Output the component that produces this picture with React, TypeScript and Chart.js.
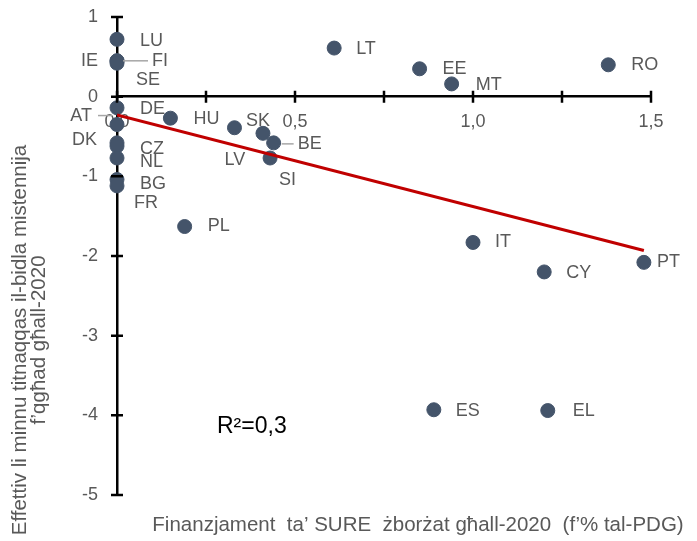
import { useEffect, useRef } from 'react';
import { Chart, registerables } from 'chart.js';

Chart.register(...registerables);

// ---- Data ----
const countries = ['LU', 'IE', 'FI', 'SE', 'DE', 'AT', 'DK', 'CZ', 'NL', 'BG', 'FR', 'HU', 'LV', 'SK', 'BE', 'SI', 'LT', 'EE', 'MT', 'RO', 'PL', 'IT', 'CY', 'PT', 'ES', 'EL'];
const sureFunding = [0, 0, 0, 0, 0, 0, 0, 0, 0, 0, 0, 0.15, 0.33, 0.41, 0.44, 0.43, 0.61, 0.85, 0.94, 1.38, 0.19, 1.0, 1.2, 1.48, 0.89, 1.21];
const unemploymentEffect = [0.72, 0.45, 0.45, 0.42, -0.14, -0.35, -0.58, -0.62, -0.77, -1.04, -1.12, -0.27, -0.39, -0.46, -0.58, -0.77, 0.61, 0.35, 0.16, 0.40, -1.63, -1.83, -2.20, -2.08, -3.93, -3.94];
const trendX = [0, 1.48];
const trendY = [-0.23, -1.93];
const rSquaredText = 'R²=0,3';
const xTitle = 'Finanzjament  ta’ SURE  żborżat għall-2020  (f’% tal-PDG)';
const yTitleLines = ['Effettiv li minnu titnaqqas il-bidla mistennija', 'f’qgħad għall-2020'];

// ---- Label placement (styling only) ----
type LabelPos = { dx: number; dy: number; align?: CanvasTextAlign; leader?: [number, number, number] };
const labelPlacement: Record<string, LabelPos> = {
  LU: { dx: 23, dy: 2 },
  IE: { dx: -19, dy: 0, align: 'right' },
  FI: { dx: 35, dy: 0, leader: [6, 31, 0] },
  SE: { dx: 19, dy: 17 },
  DE: { dx: 23, dy: 1 },
  AT: { dx: -25, dy: -9, align: 'right', leader: [-19, -5, -9] },
  DK: { dx: -20, dy: -3, align: 'right' },
  CZ: { dx: 23, dy: 3 },
  NL: { dx: 23, dy: 4 },
  BG: { dx: 23, dy: 5 },
  FR: { dx: 17, dy: 17 },
  HU: { dx: 23, dy: 1 },
  LV: { dx: -10, dy: 32 },
  SK: { dx: -17, dy: -12 },
  BE: { dx: 24, dy: 1, leader: [8, 20, 1] },
  SI: { dx: 9, dy: 22 },
  LT: { dx: 22, dy: 1 },
  EE: { dx: 23, dy: 0 },
  MT: { dx: 24, dy: 1 },
  RO: { dx: 23, dy: 0 },
  PL: { dx: 23, dy: 0 },
  IT: { dx: 22, dy: 0 },
  CY: { dx: 22, dy: 1 },
  PT: { dx: 13, dy: 0 },
  ES: { dx: 22, dy: 1 },
  EL: { dx: 25, dy: 0 },
};

const FONT = '"Liberation Sans", Arial, sans-serif';
const GRAY = '#595959';

const overlayPlugin = {
  id: 'overlay',
  afterDatasetsDraw(chart: any) {
    const { ctx, scales } = chart;
    const xs = scales.x;
    const ys = scales.y;
    const x0 = xs.getPixelForValue(0);
    const y0 = ys.getPixelForValue(0);
    ctx.save();
    // crossing tick marks
    ctx.strokeStyle = '#000';
    ctx.lineWidth = 2.5;
    ctx.beginPath();
    xs.ticks.forEach((t: any) => {
      const px = xs.getPixelForValue(t.value);
      ctx.moveTo(px, y0 - 6);
      ctx.lineTo(px, y0 + 6);
    });
    ys.ticks.forEach((t: any) => {
      const py = ys.getPixelForValue(t.value);
      ctx.moveTo(x0 - 6, py);
      ctx.lineTo(x0 + 6, py);
    });
    ctx.stroke();

    // point labels
    const meta = chart.getDatasetMeta(1);
    ctx.font = `18px ${FONT}`;
    ctx.fillStyle = GRAY;
    ctx.textBaseline = 'middle';
    meta.data.forEach((el: any, i: number) => {
      const name = countries[i];
      const p = labelPlacement[name] || { dx: 20, dy: 0 };
      ctx.textAlign = p.align || 'left';
      ctx.fillText(name, el.x + p.dx, el.y + p.dy);
      if (p.leader) {
        ctx.strokeStyle = '#a6a6a6';
        ctx.lineWidth = 1.5;
        ctx.beginPath();
        ctx.moveTo(el.x + p.leader[0], el.y + p.leader[2]);
        ctx.lineTo(el.x + p.leader[1], el.y + p.leader[2]);
        ctx.stroke();
      }
    });

    // R squared
    ctx.textAlign = 'left';
    ctx.fillStyle = '#000';
    ctx.font = `23px ${FONT}`;
    ctx.fillText(rSquaredText, 217, 427);

    // axis titles
    ctx.fillStyle = GRAY;
    ctx.font = `20.5px ${FONT}`;
    ctx.textAlign = 'center';
    ctx.fillText(xTitle, 418, 525);

    ctx.save();
    ctx.translate(20, 340);
    ctx.rotate(-Math.PI / 2);
    ctx.fillText(yTitleLines[0], 0, 0);
    ctx.fillText(yTitleLines[1], 0, 19);
    ctx.restore();
    ctx.restore();
  },
};

const zeroPadding = (s: any) => {
  s.paddingTop = 0;
  s.paddingBottom = 0;
  s.paddingLeft = 0;
  s.paddingRight = 0;
};

export default function App() {
  const ref = useRef<HTMLCanvasElement | null>(null);
  useEffect(() => {
    if (!ref.current) return;
    const points = sureFunding.map((x, i) => ({ x, y: unemploymentEffect[i] }));
    const trend = trendX.map((x, i) => ({ x, y: trendY[i] }));
    const chart = new Chart(ref.current, {
      type: 'scatter',
      data: {
        datasets: [
          {
            type: 'line',
            data: trend,
            borderColor: '#C00000',
            borderWidth: 3,
            pointRadius: 0,
            showLine: true,
            fill: false,
            order: 0,
          } as any,
          {
            data: points,
            backgroundColor: '#44546A',
            borderColor: '#44546A',
            pointRadius: 7,
            pointHoverRadius: 7,
            clip: false,
            order: 1,
          } as any,
        ],
      },
      options: {
        animation: false,
        responsive: false,
        devicePixelRatio: 1,
        layout: { padding: { left: 0, right: 46, top: 17, bottom: 46 } },
        plugins: { legend: { display: false }, tooltip: { enabled: false } },
        scales: {
          x: {
            type: 'linear',
            min: 0,
            max: 1.5,
            position: { y: 0 } as any,
            z: 1,
            grid: { display: false, drawTicks: false },
            border: { display: true, color: '#000', width: 2.5 },
            ticks: {
              stepSize: 0.25,
              padding: 15,
              color: GRAY,
              font: { size: 18, family: FONT },
              maxRotation: 0,
              autoSkip: false,
              callback: (v: any) => {
                const n = Number(v);
                return Math.abs(n * 2 - Math.round(n * 2)) < 1e-9 ? n.toFixed(1).replace('.', ',') : '';
              },
            },
            afterFit: zeroPadding,
          },
          y: {
            type: 'linear',
            min: -5,
            max: 1,
            position: 'left',
            grid: { display: false, drawTicks: false },
            border: { display: true, color: '#000', width: 2.5 },
            ticks: {
              stepSize: 1,
              padding: 19,
              color: GRAY,
              font: { size: 18, family: FONT },
              callback: (v: any) => String(v),
            },
            afterFit: (s: any) => {
              zeroPadding(s);
              s.width = 117;
            },
          },
        },
      },
      plugins: [overlayPlugin],
    });
    return () => chart.destroy();
  }, []);
  return (
    <div style={{ position: 'fixed', left: 0, top: 0, width: 697, height: 541, background: '#fff' }}>
      <canvas ref={ref} width={697} height={541} style={{ display: 'block' }} />
    </div>
  );
}
